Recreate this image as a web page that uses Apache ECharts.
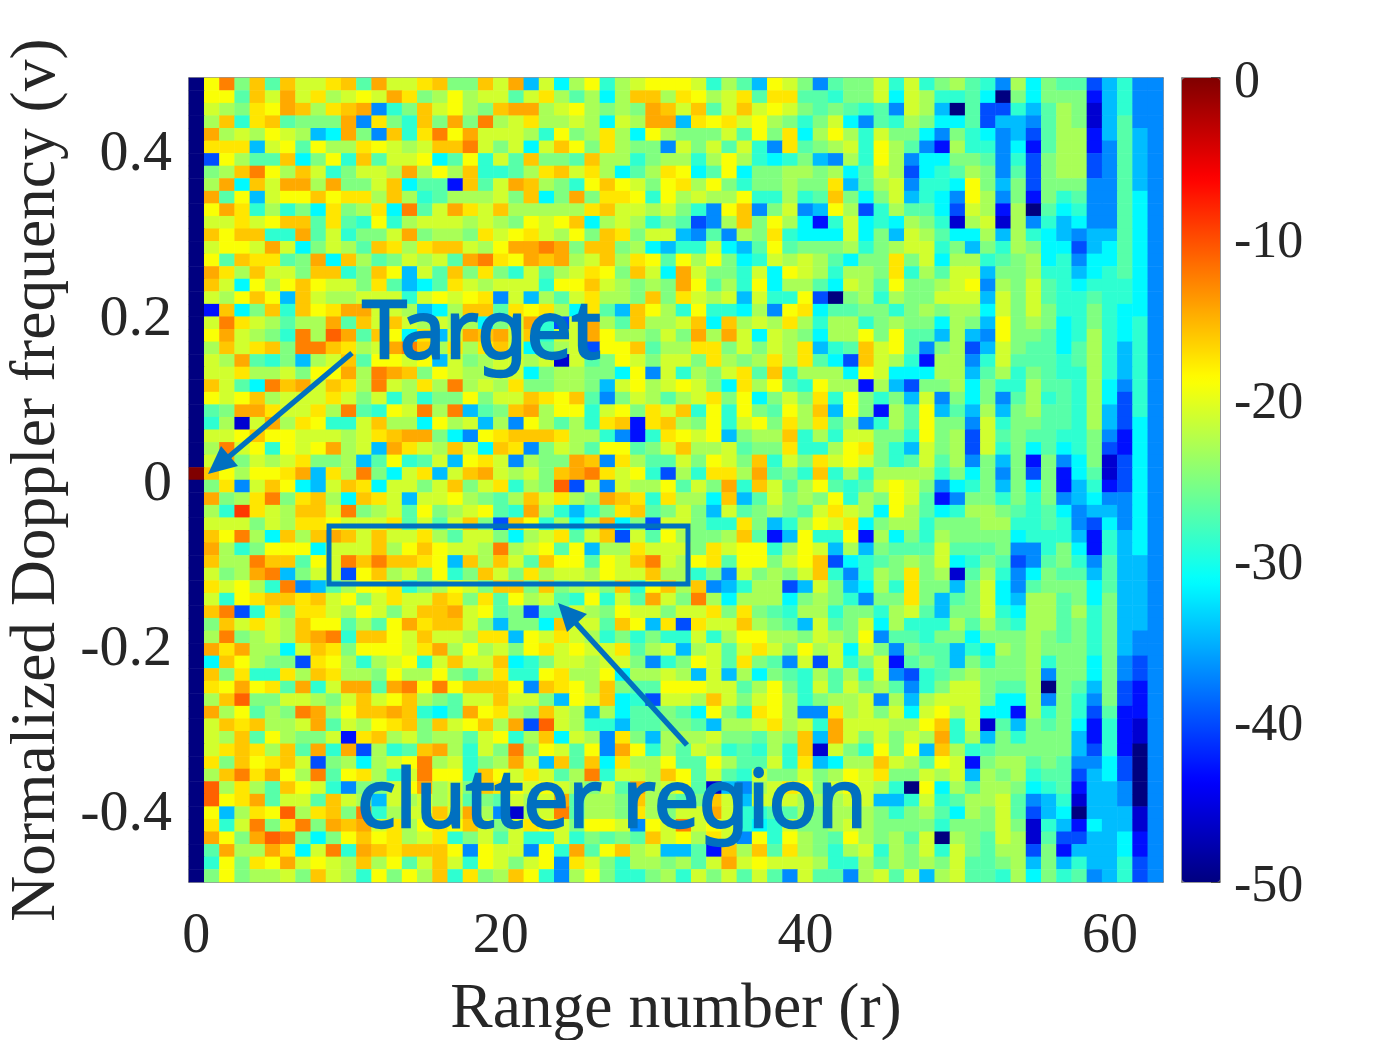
<!DOCTYPE html>
<html>
<head>
<meta charset="utf-8">
<title>Range-Doppler map</title>
<style>
  html, body { margin: 0; padding: 0; background: #fff; }
  #chart { width: 1386px; height: 1040px; }
</style>
<script src="https://cdn.jsdelivr.net/npm/echarts@6/dist/echarts.min.js"></script>
</head>
<body>
<div id="chart"></div>
<script>
// cell levels: one letter per colour step
const levelCodes = ['n', 'd', 'b', 'u', 'a', 's', 'c', 't', 'm', 'g', 'l', 'k', 'y', 'w', 'o', 'p', 'r', 'e', 'h', 'x']
const levelDb = [-50, -46, -43, -40, -37, -34.5, -31.5, -29, -27, -25, -23, -21, -19, -17.5, -16, -14.5, -12.5, -11, -9, 0]

// top row first, 64 columns each (grouped by 16 for reading)
const rows = [
  'nyrgomokkwompkkw oggokpskclytlkyy yktlmsykgamggktk tglmtalcgmmustaa',
  'nyymokpkwlkykpwg lylkkmkwlmlclool wylkwmwwmmtggkck lttmcngcgggbstaa',
  'nklgwypolwopatgo kylgopplkylglgpo komkokykgmgmtmak lsnmuutsmlgdstaa',
  'nlotwomgggpawgto gpgrlkwllklcklpp swywkylgtgkcamtl gccmussamlgdsmaa',
  'nplklyklscpgaotw rypkkkltyglwlcyl gggkmygwclyltkgg cagtcasumllbsmsa',
  'nwwwskymyllwyklk oorkgkckoygwlgga kgkmktawmglktylm ablttacbmllbamsa',
  'nuylmmocgytomkky cmytkmoggmolltgl ltlyltctgsaltyla ccggmatuglluamsa',
  'ngloryloktgkklpl ylottmlwokwlcmlw ycmycggllglcmklu ctmlgamuglluamsa',
  'nlpcokpplpggkocm mbomkpolgtyoykgy wlygtgglggwsmlka ttcygsgugggaamsa',
  'npmyskyyoywwlolt mlllkgocgpgwwyty lkllyttltmogcgks tcaylagbgtmaamca',
  'nypwtltgcwglwcrm kpwkolllllwokklk gtayoagkasylutlm mcuklblnmctaamca',
  'nkkwkyoomwmtytlk kklklgykyoclkltg mualogylcbtkctcl gtdlkdlatscaamca',
  'noyoottpmktggkpg llgwkywklygowgkk samalgwtccckcgsk lmcclsltcsassmca',
  'nkyykpkcgklmowlw ooklypprpgooglcs ttkcsmymgggltglk ktgsgtlgccuscmca',
  'nymowwmgpcolmgkl kmprwypoplkolwym ylygctklklmcggwg kclltmglctaccmca',
  'npwlokkgootgoysk mogwgtkmlkwygokc pkggtkcykltllgwt lmkksgglttsctmca',
  'nokcylyoykkgwmsc mwklkkktyyoklglg pymltycllmcklmyg glkyalgkmtctttca',
  'nklyoysokllkkktk ykywakslmkwllgog wklkskttyungltlg gkkkskgkmttmttca',
  'nbocgotoywppkkls cloomwywlcwmsoyl tyttclaywcmmggtg lgllckgkgttgtcca',
  'nkrwklmllpmokokl kllcgkptukplmoll kocolklwltlltglg gclgsyglgctgtcta',
  'nypklgtrlepmoycw skpopkotkkpyllgk gplpkcklgcllygym mslsayggmctltcta',
  'nlokwogrrowlkpro lwlwokcmlkuyyoml lwwgkgklwstmokym agluskgmmcmltsta',
  'nklpmtgslkomyyky skglkklkdkmgykgk kgwlglwlwmcuoklt bllatkmmmtmltsta',
  'nkkwllkgyyplrpog ykllkkcgllggcyak tlgkwmotlllcykcc cllsmltgmttltsta',
  'nokmcropkowlrklw lrlklwggllgskylk ykgcwlymtyllblsu gglcgttlmmtlcata',
  'nykyolkkkwkgktlt ggygkkowyomagklm lkwgycgkgwtygtgs kagcgamltmtlcuta',
  'nmgppwkkwlrmtykr lrsmgoplyytkygwk otytygmylosygblm ysmslsglmmtlsuta',
  'ntldkplwyttkollc ylkslaylmltwobwo lgytkygwlwmlatlm yggaktggmmtlsuca',
  'nkkyoyykkklkwopp gcaywooowlltabtw ykysgllotltkkggt yglukmgmmttgabca',
  'nlrkytykyplkspwk lokcowagklmyymgk ollkmggwttlywgts kgluktgcmctgubca',
  'nkpgklkwgglsmytm ksywkalggpoawlmm kgykgotkgwkykgtm kmlagsgbgacgduca',
  'xoylyywpswlrgckw skopklkgoprwkytu ltwwlpmgtotltlll ltgcgagugbcmduca',
  'ngwakoycskowckkg kogkwtlgeukaklly mkgptokmlymtmkyk gactgsgcgbstbuca',
  'npglwrgwolcowksk kylgmlokwlgpowtw llcosmkglgytlgyk mbaggtgtgascaaca',
  'nlthwklookrglkmy glkymtpltstgwomg kgskmglgmkwklcyl mctllgmtmcassaca',
  'nkkkgklwwykkkwmk mkoguoytlclpcguk kgttwgstlykwcgll tgggllttmtaucaca',
  'noyrlcolopokokkw lmkkgclkwmkoukmy lgglombsyttyblcg tlggggctttsbtsca',
  'npltgyyyckkkolyo ykklrlkymysllwkk kgwkyytlykslsgmm mkmmmgaatgcbtsca',
  'nollroomykroroow ysolokmoyymykork lywmyygkyouctmgl gkctgmuamgtamssa',
  'nkglprsgkkuyolkg ytgokgwlkklykkol ltgakglgkotatlgw gldmltacgmmsmssa',
  'nwkyltrasmlyywtg lykgoogoglkgotyo loastlluskgscltw ggsgkcamgggcmssa',
  'nktywoowokygkwkk owgwmylkmtytkmpk grlclllcglgtaggw gsmgkcsllmgcgssa',
  'norutwgwwklykgko opkymgummklgykkg kkwgwgmtlltggtlk msggktcllmltgssa',
  'ngokwkloyymlmypw ookgsggcokkmoysw uwkkolgmskmgkclt ttlmlmtllmgtgssa',
  'nlrglkloprtooyko kklwwsykwkltgtgt tktlyyllgklgyamm tggcggglgmgtgsaa',
  'npwpllckowgyyykw plylkgywkykkwmlk slkmkwkgylkckgag mmstclglgggtgsaa',
  'ncoylgguwyltlkyt kokkoctgkklkkgat gykmwgmakuktgkbm gmsgtggltggcgaua',
  'nogwttwlowllgyll ygmlwttywllycllk lskslcgmtlmltkau tmglggglaggcgaua',
  'nwypywmptkppmpry ryoooyaowylogmmy yykkmlygtkmkglma tgkkgmmlngmsguba',
  'nloeggkklgkokyol gmkkokkgsykoctuk klokgkyltgllkals lkkkgcclagtaguba',
  'nplymlgrplyoopot cmpywlgoklslcmmg mcygtwylaawlkgkc kylkccbltgtumbba',
  'nkowollkpmklywog okyolpueklttsmmg gmsllkwlktpkkkll yotkdmsgmgcbtbda',
  'nklomylggkbwolkg llmkytlocklawgsl llkggmlgospkgkgk lptlsgtgggsbtbda',
  'nkwowlomptpultmo pltkgrgykmyapytl mkltmtltodkgtygy soltmgggggsutbna',
  'nwgoywokuglclkyr lktglpksomocwlly mmylmmktwscllokl mykbgllmgmaacuna',
  'nlorwpylrmywltkr yytoykwkmlrtkklo ymkmtkggkglykwgg klkslgltmmuscuna',
  'nelwlmoyktaggkyp lkgowykyklgkmplk ymdsalkwygkykltn yclmllgctmbssana',
  'neywpmkkmoklsklk lkmgmklkpmllgolg mgokskkklllkksst ktmllkmastdssana',
  'nyslwyelwogrtlkk okpladlkrmllgwlg kkpkttmmlglllgtg lmclgkmuscnsssda',
  'nwtkrgwrgpopkwly wyokgkwykgyykayk rkyktctkgglklggg gtgggkgdtsbcssda',
  'npygpergcgyoywlk wtgkmkttktgmgmok ylwkaytylgmylglm knlgmkldmuusscba',
  'nmpllpwckrtpowoo oyaykkaytpmyolks smbolomwlgtlktlg ktkgmllugbssscba',
  'ntygwypkyklolymk oktykgkyawkgtllg lmkpkykkklttlmlg lgkmmglsgstsstua',
  'ngygllkgokltygyl otwgloytalygttgl tkgkmkmakmmalkmk slkmmtlcgtmastua'
]

const xTicks = [0, 20, 40, 60]
const yTicks = [0.4, 0.2, 0, -0.2, -0.4]
const jet = ['#000080', '#0000ff', '#0080ff', '#00ffff', '#80ff80', '#ffff00', '#ff8000', '#ff0000', '#800000']
const serif = '"Liberation Serif", "Times New Roman", serif'
const blue = '#0070c0'
const frame = { show: true, onZero: false, lineStyle: { color: '#777', width: 1.5 } }

const colCount = rows[0].replace(/ /g, '').length
const cols = []
for (let i = 0; i < colCount; i++) cols.push(i)
const cats = rows.map((r, i) => i)

// category 0 sits at the bottom of the axis, so flip the rows
const cells = []
rows.forEach((r, i) => {
  const s = r.replace(/ /g, '')
  for (let j = 0; j < s.length; j++) {
    cells.push([j, rows.length - 1 - i, levelDb[levelCodes.indexOf(s[j])]])
  }
})

const tickStyle = { show: true, inside: true, length: 10, lineStyle: { color: '#333', width: 1.5 } }

const myChart = echarts.init(document.getElementById('chart'), null, { renderer: 'canvas' })
myChart.setOption({
  animation: false,
  backgroundColor: '#fff',
  textStyle: { fontFamily: serif, color: '#262626' },
  grid: [
    { left: 189, top: 78, width: 974, height: 804, outerBoundsMode: 'none' },
    { left: 1182, top: 78, width: 38, height: 804, outerBoundsMode: 'none' }
  ],
  xAxis: [
    { type: 'category', gridIndex: 0, data: cols, show: false },
    {
      type: 'value', gridIndex: 0, position: 'bottom', min: -0.48, max: 63.48, scale: true,
      axisLine: frame, splitLine: { show: false },
      axisTick: { ...tickStyle, customValues: xTicks },
      axisLabel: { customValues: xTicks, fontFamily: serif, fontSize: 56, color: '#262626', margin: 27 },
      name: 'Range number (r)', nameLocation: 'middle', nameGap: 96,
      nameTextStyle: { fontFamily: serif, fontSize: 63.5, color: '#262626' }
    },
    {
      type: 'value', gridIndex: 0, position: 'top', min: -0.48, max: 63.48, scale: true,
      axisLine: frame, splitLine: { show: false },
      axisTick: { ...tickStyle, customValues: xTicks },
      axisLabel: { show: false }
    },
    {
      type: 'value', gridIndex: 1, position: 'bottom', min: 0, max: 1,
      axisLine: frame, splitLine: { show: false }, axisTick: { show: false }, axisLabel: { show: false }
    },
    {
      type: 'value', gridIndex: 1, position: 'top', min: 0, max: 1,
      axisLine: frame, splitLine: { show: false }, axisTick: { show: false }, axisLabel: { show: false }
    }
  ],
  yAxis: [
    { type: 'category', gridIndex: 0, data: cats, show: false },
    {
      type: 'value', gridIndex: 0, position: 'left', min: -0.4873, max: 0.4873, scale: true,
      axisLine: frame, splitLine: { show: false },
      axisTick: { ...tickStyle, customValues: yTicks },
      axisLabel: { customValues: yTicks, fontFamily: serif, fontSize: 58, color: '#262626', margin: 17, verticalAlign: 'top', padding: [-24, 0, 0, 0] },
      name: 'Normalized Doppler frequency (v)', nameLocation: 'middle', nameGap: 109, nameRotate: 90,
      nameTextStyle: { fontFamily: serif, fontSize: 63.5, color: '#262626' }
    },
    {
      type: 'value', gridIndex: 0, position: 'right', min: -0.4873, max: 0.4873, scale: true,
      axisLine: frame, splitLine: { show: false },
      axisTick: { ...tickStyle, customValues: yTicks },
      axisLabel: { show: false }
    },
    {
      type: 'value', gridIndex: 1, position: 'left', min: -50, max: 0,
      axisLine: frame, splitLine: { show: false }, axisTick: { show: false }, axisLabel: { show: false }
    },
    {
      type: 'value', gridIndex: 1, position: 'right', min: -50, max: 0, interval: 10,
      axisLine: frame, splitLine: { show: false },
      axisTick: { show: true, inside: true, length: 9, lineStyle: { color: '#333', width: 1.5 } },
      axisLabel: { fontFamily: serif, fontSize: 52, color: '#262626', margin: 14, verticalAlign: 'top', padding: [-21, 0, 0, 0] }
    }
  ],
  visualMap: {
    type: 'continuous',
    seriesIndex: 0,
    min: -50,
    max: 0,
    calculable: false,
    hoverLink: false,
    realtime: false,
    left: 1182,
    top: 78,
    padding: 0,
    itemWidth: 38,
    itemHeight: 804,
    text: ['', ''],
    showLabel: false,
    inRange: { color: jet }
  },
  series: [
    {
      type: 'heatmap',
      xAxisIndex: 0,
      yAxisIndex: 0,
      data: cells,
      progressive: 0,
      silent: true,
      itemStyle: { borderWidth: 0 },
      emphasis: { disabled: true }
    }
  ],
  graphic: [
    { type: 'rect', z: 100, shape: { x: 329, y: 526, width: 359, height: 58 }, style: { fill: 'none', stroke: blue, lineWidth: 5 } },
    { type: 'line', z: 100, shape: { x1: 352, y1: 353, x2: 225, y2: 460 }, style: { stroke: blue, lineWidth: 5.5 } },
    { type: 'polygon', z: 100, shape: { points: [[208, 474], [221, 446], [238, 466]] }, style: { fill: blue } },
    { type: 'line', z: 100, shape: { x1: 687, y1: 745, x2: 573, y2: 620 }, style: { stroke: blue, lineWidth: 5.5 } },
    { type: 'polygon', z: 100, shape: { points: [[558, 603], [587, 614], [567, 632]] }, style: { fill: blue } },
    {
      type: 'text', z: 100, left: 361, top: 294,
      style: { text: 'Target', fill: blue, stroke: blue, lineWidth: 2.5, font: '80px "Noto Sans", Arial, sans-serif' }
    },
    {
      type: 'text', z: 100, left: 356, top: 763,
      style: { text: 'clutter region', fill: blue, stroke: blue, lineWidth: 2.5, font: '80px "Noto Sans", Arial, sans-serif' }
    }
  ]
})
</script>
</body>
</html>
